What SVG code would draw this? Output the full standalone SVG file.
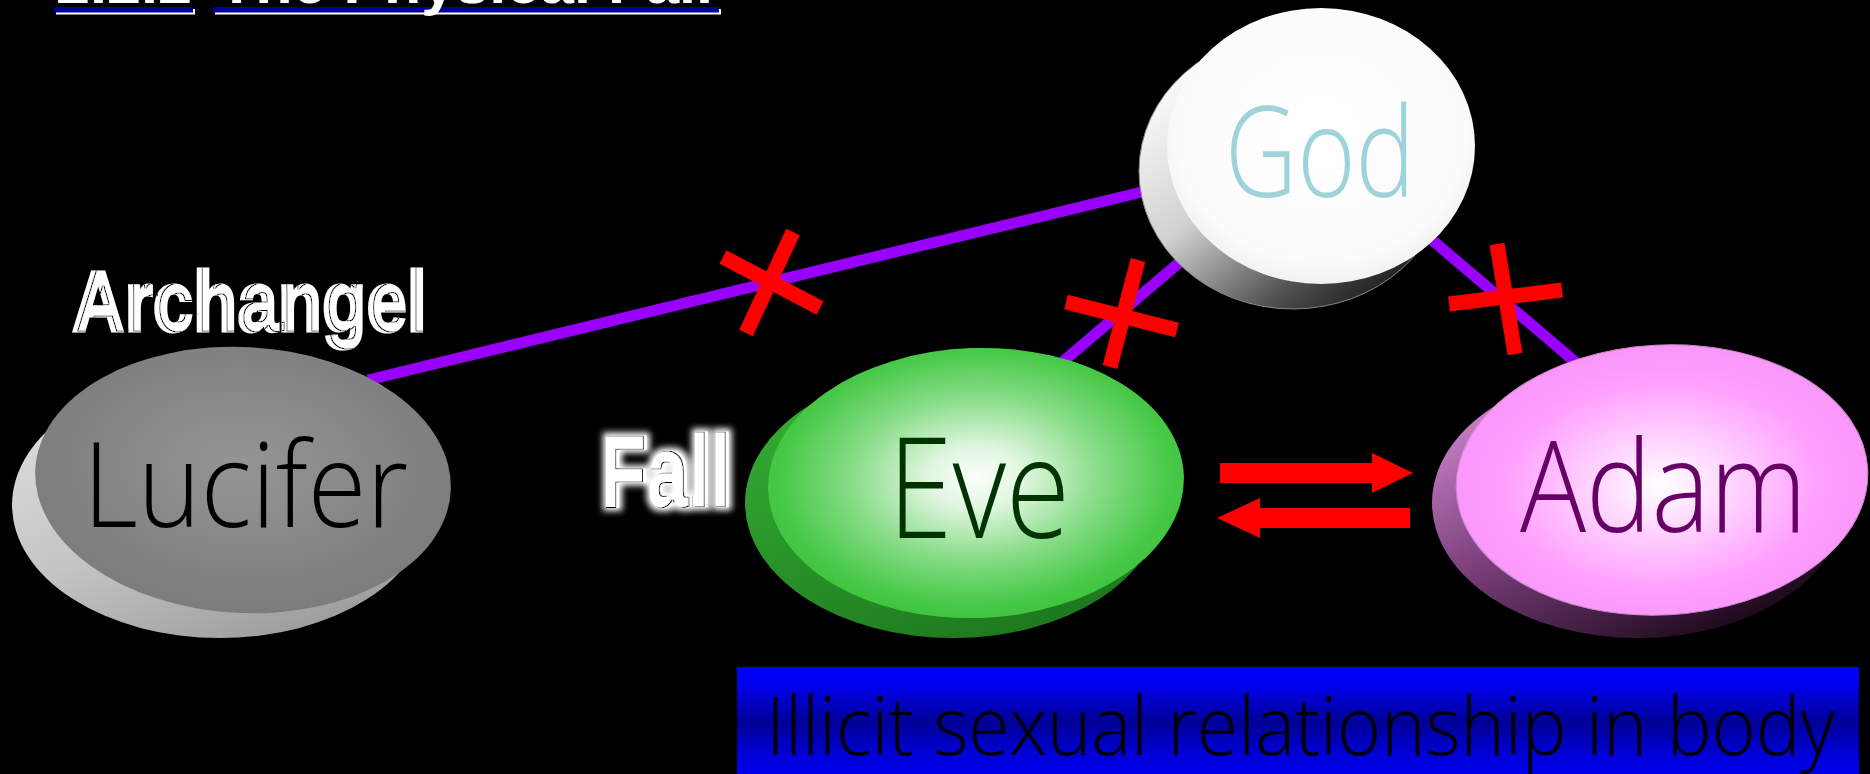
<svg xmlns="http://www.w3.org/2000/svg" width="1870" height="774" viewBox="0 0 1870 774">
<defs>
<style>
.lbl{font-family:"Open Sans","Lato","Liberation Sans",sans-serif;font-weight:300}
.title{font-family:"Liberation Sans",Arial,sans-serif;font-weight:bold;font-size:62px;fill:#ffffff}
.cond{font-family:"Liberation Sans Narrow","Liberation Sans",Arial,sans-serif;font-weight:bold;fill:#ffffff;stroke:#ffffff}
.link{stroke:#9900ff;stroke-width:11;fill:none}
.cross{stroke:#ff0000;stroke-width:15;fill:none}
.arrow{fill:#ff0000}
</style>
<radialGradient id="lucTop" cx="0.5" cy="0.45" r="0.55">
<stop offset="0" stop-color="#959595"/><stop offset="1" stop-color="#7c7c7c"/>
</radialGradient>
<linearGradient id="lucSide" x1="0" y1="0" x2="0.6" y2="1">
<stop offset="0" stop-color="#e4e4e4"/><stop offset="0.6" stop-color="#c4c4c4"/><stop offset="1" stop-color="#a0a0a0"/>
</linearGradient>
<radialGradient id="godTop" cx="0.5" cy="0.45" r="0.55">
<stop offset="0" stop-color="#ffffff"/><stop offset="0.85" stop-color="#fbfbfb"/><stop offset="1" stop-color="#f2f2f2"/>
</radialGradient>
<linearGradient id="godSide" x1="0" y1="0.2" x2="0.7" y2="1">
<stop offset="0" stop-color="#ffffff"/><stop offset="0.45" stop-color="#d0d0d0"/><stop offset="0.8" stop-color="#555555"/><stop offset="1" stop-color="#222222"/>
</linearGradient>
<radialGradient id="eveTop" cx="0.5" cy="0.48" r="0.55">
<stop offset="0" stop-color="#fbfffb"/><stop offset="0.2" stop-color="#e2f6e2"/><stop offset="0.55" stop-color="#86dc86"/><stop offset="0.85" stop-color="#48c948"/><stop offset="1" stop-color="#3bc33b"/>
</radialGradient>
<linearGradient id="eveSide" x1="0" y1="0" x2="0.6" y2="1">
<stop offset="0" stop-color="#36b336"/><stop offset="1" stop-color="#1e7a1e"/>
</linearGradient>
<radialGradient id="adamTop" cx="0.5" cy="0.52" r="0.55">
<stop offset="0" stop-color="#ffffff"/><stop offset="0.25" stop-color="#ffdcff"/><stop offset="0.7" stop-color="#ff9fff"/><stop offset="1" stop-color="#f994f9"/>
</radialGradient>
<linearGradient id="adamSide" x1="0" y1="0.1" x2="0.7" y2="1">
<stop offset="0" stop-color="#d890d8"/><stop offset="0.5" stop-color="#7a3e7a"/><stop offset="1" stop-color="#1a081a"/>
</linearGradient>
<linearGradient id="boxGrad" x1="0" y1="0" x2="0" y2="1">
<stop offset="0" stop-color="#0000ff"/><stop offset="0.15" stop-color="#0000f2"/><stop offset="0.5" stop-color="#000096"/><stop offset="0.8" stop-color="#0000d8"/><stop offset="1" stop-color="#0000f0"/>
</linearGradient>
<filter id="engrave" x="-10%" y="-20%" width="120%" height="140%">
<feOffset in="SourceAlpha" dx="5" dy="-1" result="off"/>
<feMorphology in="off" operator="erode" radius="1" result="er"/>
<feComposite in="off" in2="er" operator="out" result="ring"/>
<feComposite in="ring" in2="SourceAlpha" operator="in" result="ringIn"/>
<feFlood flood-color="#000000" result="blk"/>
<feComposite in="blk" in2="ringIn" operator="in" result="edge"/>
<feMerge><feMergeNode in="SourceGraphic"/><feMergeNode in="edge"/></feMerge>
</filter>
<filter id="glowEngrave" x="-20%" y="-20%" width="140%" height="140%">
<feMorphology in="SourceAlpha" operator="dilate" radius="3" result="d"/>
<feGaussianBlur in="d" stdDeviation="3" result="b"/>
<feFlood flood-color="#ffffff" result="w"/>
<feComposite in="w" in2="b" operator="in" result="glow"/>
<feOffset in="SourceAlpha" dx="-3" dy="0" result="off"/>
<feMorphology in="off" operator="erode" radius="1" result="er"/>
<feComposite in="off" in2="er" operator="out" result="ring"/>
<feComposite in="ring" in2="SourceAlpha" operator="in" result="ringIn"/>
<feFlood flood-color="#000000" result="blk"/>
<feComposite in="blk" in2="ringIn" operator="in" result="edge"/>
<feMerge><feMergeNode in="glow"/><feMergeNode in="SourceGraphic"/><feMergeNode in="edge"/></feMerge>
</filter>
</defs>
<rect x="0" y="0" width="1870" height="774" fill="#000000"/>

<g id="title">
<rect x="56" y="9" width="139" height="5.5" fill="#ffffff"/>
<rect x="54" y="7" width="139" height="5.5" fill="#000099"/>
<rect x="215" y="9" width="506" height="5.5" fill="#ffffff"/>
<rect x="213" y="7" width="506" height="5.5" fill="#000099"/>
<text class="title" x="56" y="3" textLength="136" lengthAdjust="spacingAndGlyphs">2.2.2</text>
<text class="title" x="218" y="3" textLength="495" lengthAdjust="spacingAndGlyphs">The Physical Fall</text>
</g>

<g id="connectors">
<line class="link" x1="368" y1="380" x2="1150" y2="190"/>
<line class="link" x1="1060" y1="364" x2="1180" y2="262"/>
<line class="link" x1="1425" y1="234" x2="1580" y2="366"/>
<line class="cross" x1="723" y1="257" x2="820" y2="308"/>
<line class="cross" x1="793" y1="232" x2="746" y2="333"/>
<line class="cross" x1="1066" y1="302" x2="1177" y2="330"/>
<line class="cross" x1="1138" y1="260" x2="1110" y2="367"/>
<line class="cross" x1="1449" y1="304" x2="1562" y2="290"/>
<line class="cross" x1="1497" y1="244" x2="1515" y2="354"/>
<polygon class="arrow" points="1220,463 1372,463 1372,453 1413,473 1372,493 1372,483 1220,483"/>
<polygon class="arrow" points="1410,508 1260,508 1260,498 1217,518 1260,538 1260,528 1410,528"/>
</g>

<g id="lucifer">
<ellipse cx="220" cy="505" rx="208" ry="133" fill="url(#lucSide)"/>
<ellipse cx="243" cy="480" rx="208" ry="133" fill="url(#lucTop)" transform="rotate(3 243 480)"/>
<text class="lbl" x="83" y="527" font-size="118" fill="#000000" textLength="325" lengthAdjust="spacingAndGlyphs">Lucifer</text>
</g>

<g id="archangel">
<text class="cond" x="72" y="331" font-size="86" stroke-width="3" filter="url(#engrave)" textLength="355" lengthAdjust="spacingAndGlyphs">Archangel</text>
</g>

<g id="god">
<ellipse cx="1293" cy="171" rx="154" ry="138" fill="url(#godSide)" stroke="#888" stroke-width="1"/>
<ellipse cx="1321" cy="146" rx="154" ry="138" fill="url(#godTop)"/>
<text class="lbl" x="1225" y="197" font-size="126" fill="#9dd3d9" textLength="190" lengthAdjust="spacingAndGlyphs">God</text>
</g>

<g id="fall">
<text class="cond" x="602" y="506" font-size="100" stroke-width="3" filter="url(#glowEngrave)" textLength="131" lengthAdjust="spacingAndGlyphs">Fall</text>
</g>

<g id="eve">
<ellipse cx="953" cy="503" rx="208" ry="135" fill="url(#eveSide)"/>
<ellipse cx="976" cy="483" rx="208" ry="135" fill="url(#eveTop)" transform="rotate(-2 976 483)"/>
<text class="lbl" x="888" y="538" font-size="140" fill="#003300" textLength="182" lengthAdjust="spacingAndGlyphs">Eve</text>
</g>

<g id="adam">
<ellipse cx="1638" cy="503" rx="206" ry="135" fill="url(#adamSide)"/>
<ellipse cx="1662" cy="480" rx="206" ry="135" fill="url(#adamTop)" stroke="#c98ac9" stroke-width="1" transform="rotate(-3 1662 480)"/>
<text class="lbl" x="1520" y="532" font-size="128" fill="#660066" textLength="287" lengthAdjust="spacingAndGlyphs">Adam</text>
</g>

<g id="illicit">
<rect x="737" y="667" width="1122" height="110" fill="url(#boxGrad)"/>
<text class="lbl" x="766" y="755" font-size="81" fill="#000000" textLength="1069" lengthAdjust="spacingAndGlyphs">Illicit sexual relationship in body</text>
</g>
</svg>
